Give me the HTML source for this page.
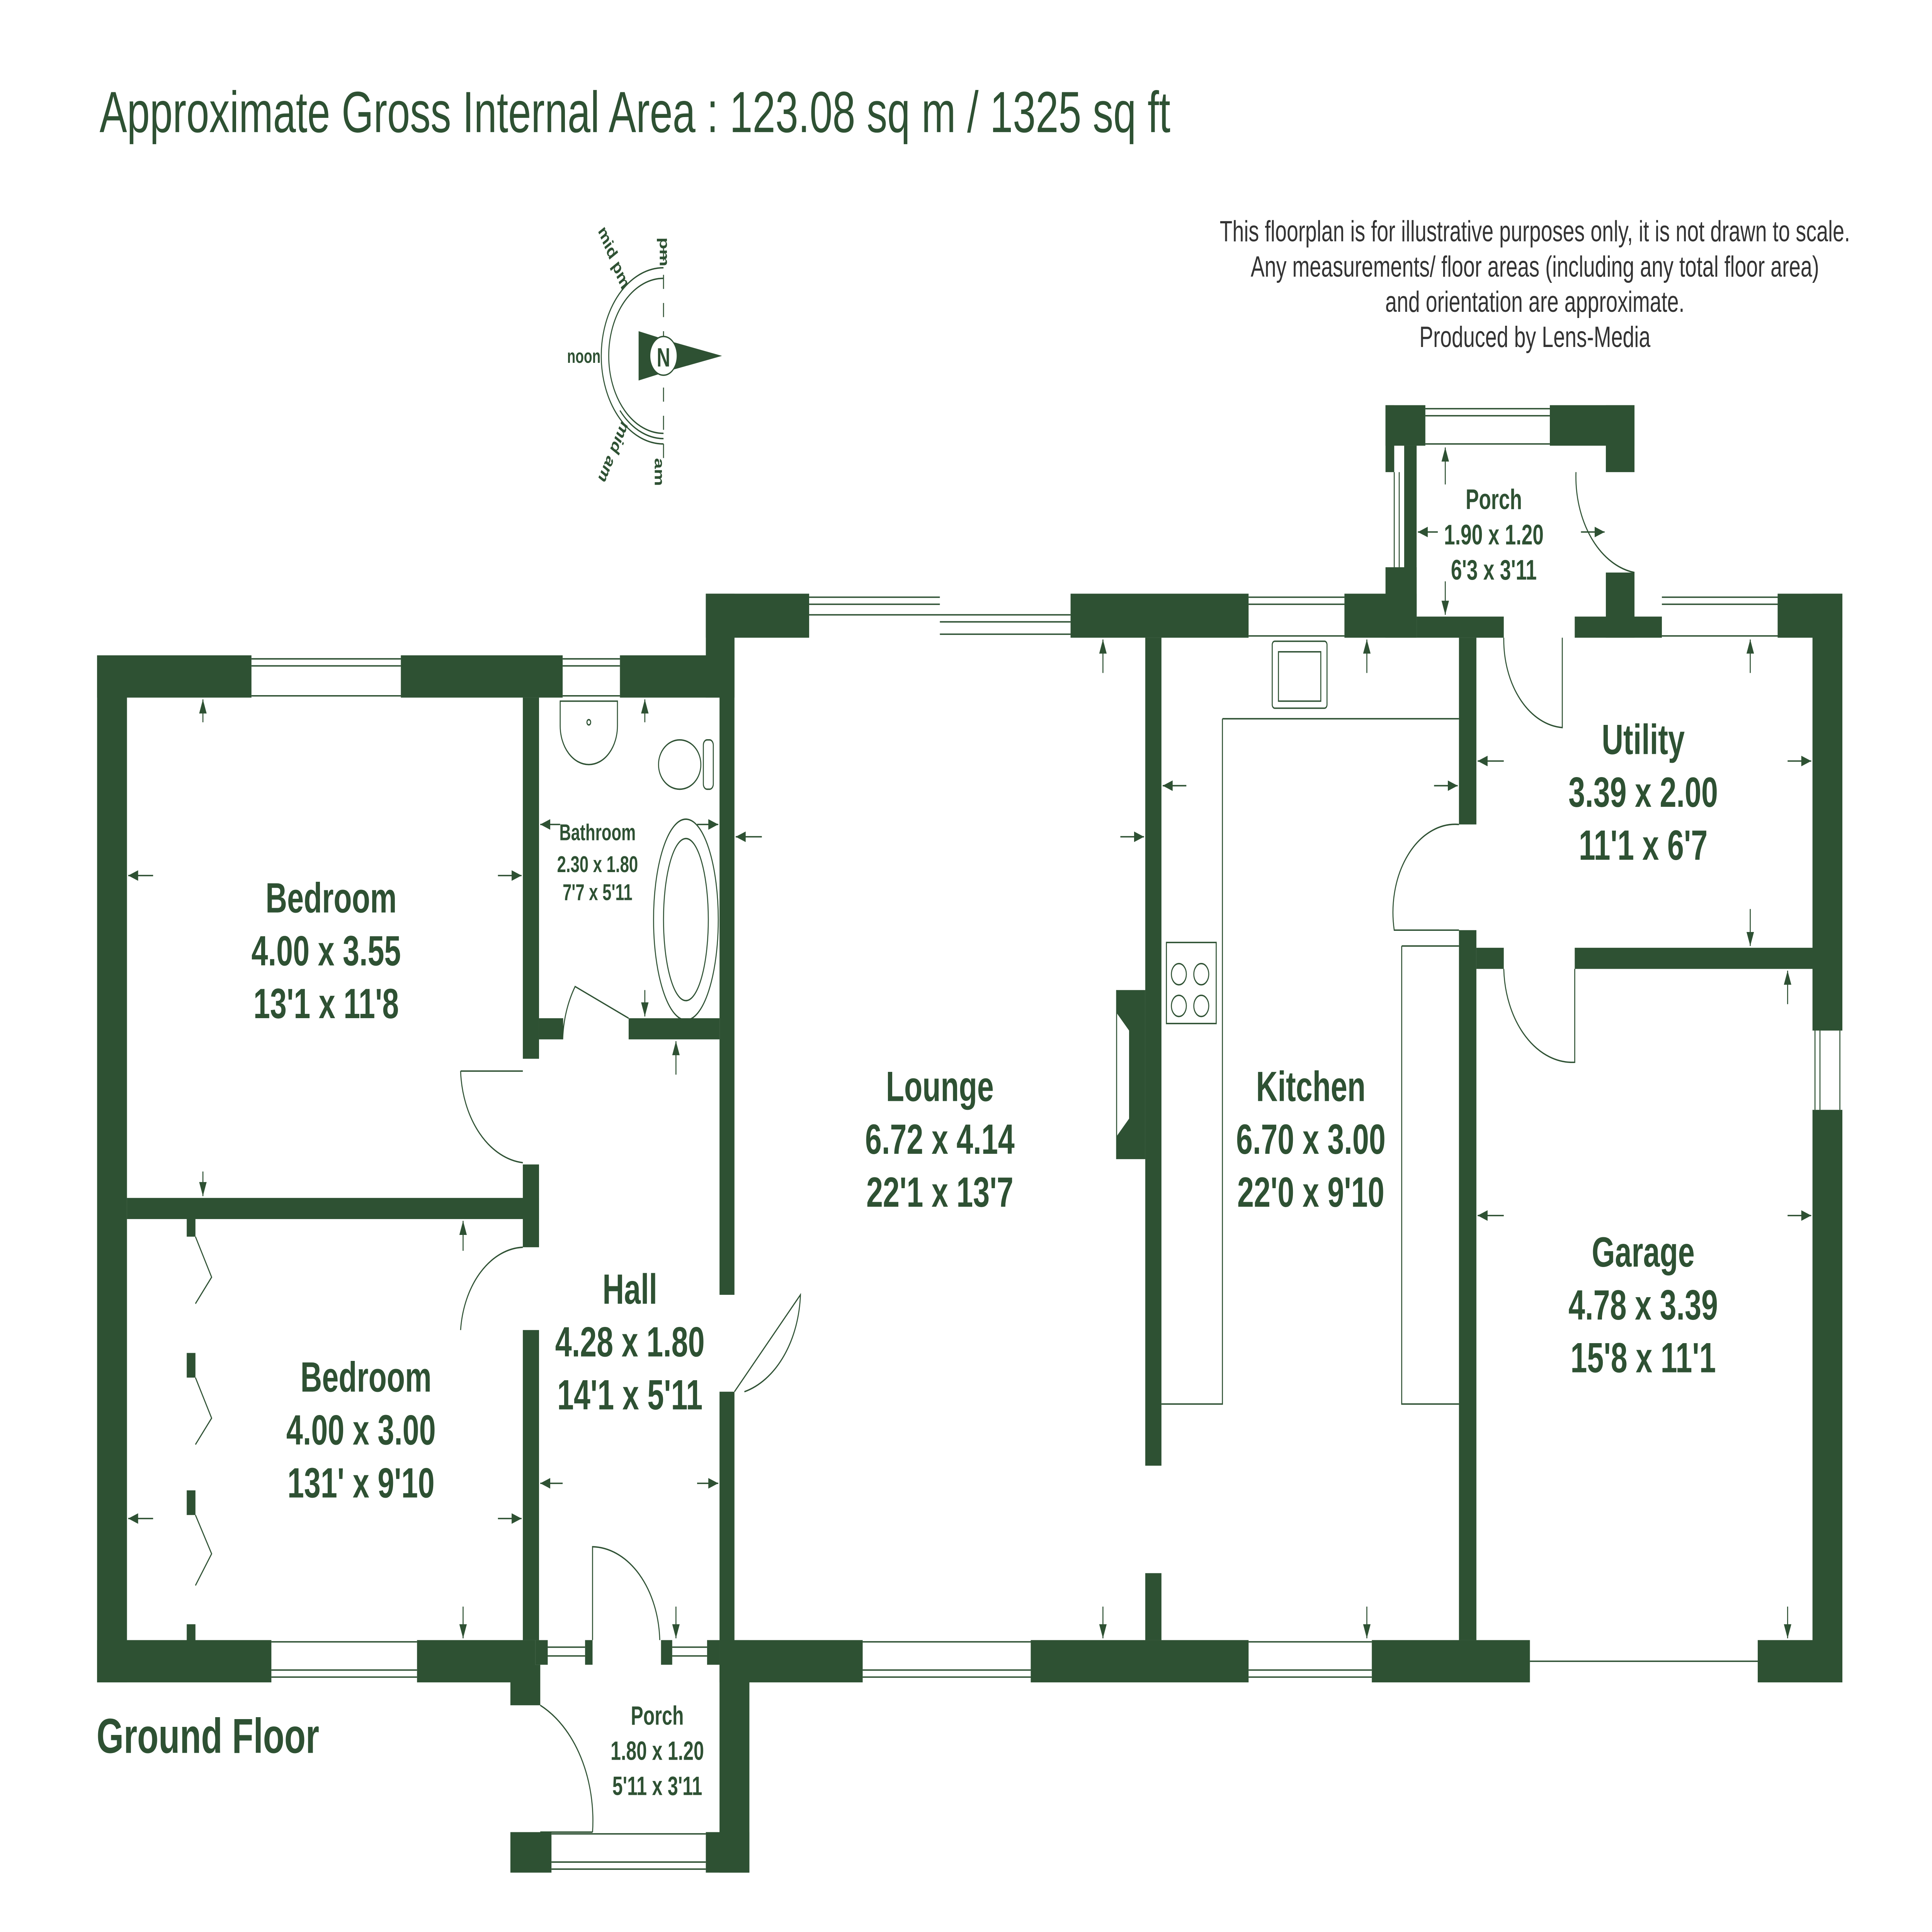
<!DOCTYPE html>
<html><head><meta charset="utf-8"><style>
html,body{margin:0;padding:0;background:#fff;width:100%;height:100%;overflow:hidden;}
svg{display:block;position:absolute;left:0;top:0;width:100vw;height:100vh;}
.w{fill:#2e5133;}
.l{stroke:#2e5133;fill:none;stroke-width:0.8;}
.t{font-family:"Liberation Sans Narrow","Liberation Sans",sans-serif;font-weight:bold;fill:#2e5133;text-anchor:middle;}
.a{stroke:#2e5133;stroke-width:0.8;marker-end:url(#ah);}
</style></head><body>
<svg viewBox="0 0 1552 1096.7" preserveAspectRatio="none" xmlns="http://www.w3.org/2000/svg">
<defs><marker id="ah" markerWidth="8" markerHeight="6" refX="8" refY="3" orient="auto" markerUnits="userSpaceOnUse"><path d="M0,0 L8,3 L0,6z" fill="#2e5133"/></marker></defs>
<rect width="1552" height="1097" fill="#fff"/>
<text x="80" y="75" style="font-family:'Liberation Sans',sans-serif;font-size:33px;fill:#2e5133">Approximate Gross Internal Area : 123.08 sq m / 1325 sq ft</text>
<g style="font-family:'Liberation Sans',sans-serif;font-size:16.7px;fill:#333" text-anchor="middle">
<text x="1233" y="137">This floorplan is for illustrative purposes only, it is not drawn to scale.</text>
<text x="1233" y="157">Any measurements/ floor areas (including any total floor area)</text>
<text x="1233" y="177">and orientation are approximate.</text>
<text x="1233" y="197">Produced by Lens-Media</text>
</g>
<g>
<path class="l" d="M533,152 A50,50 0 0 0 533,252 M533,158 A44,44 0 0 0 533,246 M533,249 A47,47 0 0 1 498,233"/>
<line class="l" x1="533" y1="140" x2="533" y2="265" stroke-dasharray="8,8"/>
<polygon class="w" points="513,188 540,194 580,202 540,210 513,216"/>
<circle cx="533" cy="202" r="11" fill="#fff" stroke="#2e5133" stroke-width="0.8"/>
<text class="t" x="533" y="208" style="font-size:15px;font-family:'Liberation Sans',sans-serif">N</text>
<g class="t" style="font-size:11px;font-family:'Liberation Sans',sans-serif">
<text x="469" y="206">noon</text>
<text transform="translate(530,143) rotate(90)">pm</text>
<text transform="translate(526,260) rotate(90)" text-anchor="start">am</text>
<text transform="translate(490,148) rotate(60)">mid pm</text>
<text transform="translate(490,255) rotate(120)">mid am</text>
</g>
</g>
<g class="w">
<rect x="78" y="372" width="124" height="24"/><rect x="322" y="372" width="130" height="24"/><rect x="498" y="372" width="80" height="24"/>
<rect x="78" y="372" width="24" height="583"/>
<rect x="78" y="931" width="140" height="24"/><rect x="335" y="931" width="95" height="24"/>
<rect x="102" y="680" width="331" height="12"/>
<rect x="420" y="396" width="13" height="205"/><rect x="420" y="661" width="13" height="47"/><rect x="420" y="755" width="13" height="176"/>
<rect x="433" y="578" width="19" height="12"/><rect x="505" y="578" width="73" height="12"/>
<rect x="150" y="690" width="7" height="12"/><rect x="150" y="768" width="7" height="14"/><rect x="150" y="846" width="7" height="14"/><rect x="150" y="922" width="7" height="10"/>
<rect x="567" y="337" width="83" height="25"/><rect x="567" y="337" width="23" height="59"/>
<rect x="578" y="362" width="12" height="373"/><rect x="578" y="790" width="12" height="141"/>
<rect x="860" y="337" width="143" height="25"/><rect x="1080" y="337" width="58" height="25"/>
<rect x="1138" y="350" width="70" height="12"/>
<rect x="920" y="362" width="13" height="470"/><rect x="920" y="893" width="13" height="38"/>
<polygon points="897,562 920,562 920,658 897,658 897,645 907,635 907,585 897,575"/>
<rect x="578" y="931" width="115" height="24"/><rect x="828" y="931" width="175" height="24"/><rect x="1102" y="931" width="127" height="24"/>
<rect x="1113" y="230" width="32" height="23"/><rect x="1245" y="230" width="68" height="23"/><rect x="1290" y="230" width="23" height="38"/>
<rect x="1113" y="230" width="7" height="38"/><rect x="1113" y="322" width="25" height="40"/><rect x="1128" y="253" width="10" height="97"/>
<rect x="1290" y="325" width="23" height="37"/><rect x="1265" y="350" width="70" height="12"/>
<rect x="1428" y="337" width="52" height="25"/>
<rect x="1172" y="362" width="14" height="106"/><rect x="1172" y="528" width="14" height="403"/>
<rect x="1186" y="538" width="22" height="12"/><rect x="1265" y="538" width="193" height="12"/>
<rect x="1456" y="337" width="24" height="248"/><rect x="1456" y="630" width="24" height="325"/>
<rect x="1412" y="931" width="68" height="24"/>
<rect x="410" y="945" width="24" height="23"/><rect x="410" y="1040" width="33" height="23"/><rect x="567" y="1040" width="35" height="23"/>
<rect x="578" y="931" width="24" height="132"/>
<rect x="430" y="931" width="10" height="14"/><rect x="470" y="931" width="6" height="14"/><rect x="531" y="931" width="9" height="14"/><rect x="568" y="931" width="10" height="14"/>
</g>
<g class="l">
<path d="M202,374 H322 M202,378 H322 M202,395 H322 M452,374 H498 M452,378 H498 M452,395 H498"/>
<path d="M650,339 H755 M650,343 H755 M650,349 H755 M755,349 H860 M755,353 H860 M755,360 H860"/>
<path d="M1003,339 H1080 M1003,343 H1080 M1003,361 H1080 M1335,339 H1428 M1335,343 H1428 M1335,361 H1428"/>
<path d="M1145,232 H1245 M1145,236 H1245 M1145,252 H1245 M1120,268 V322 M1124,268 V322"/>
<path d="M218,952 H335 M218,948 H335 M218,932 H335 M693,952 H828 M693,948 H828 M693,932 H828 M1003,952 H1102 M1003,948 H1102 M1003,932 H1102"/>
<path d="M443,1061 H567 M443,1057 H567 M443,1041 H567 M1458,585 V630 M1462,585 V630 M1478,585 V630"/>
<path d="M1229,943 H1412 M440,935 H470 M440,940 H470 M540,935 H568 M540,940 H568"/>
</g>
<g class="l">
<path d="M370,608 H420 M370,608 A55,55 0 0 0 420,660"/>
<path d="M370,755 A52,52 0 0 1 420,708"/>
<path d="M452,590 V578 M452,590 A58,58 0 0 1 462,560 L505,578"/>
<path d="M590,790 L643,735 A60,60 0 0 1 598,790"/>
<path d="M476,931 V878 A55,55 0 0 1 530,931"/>
<path d="M434,968 A72,72 0 0 1 476,1040 M476,1040 H434"/>
<path d="M1208,362 A50,50 0 0 0 1255,413 V362"/>
<path d="M1266,268 A55,55 0 0 0 1313,325"/>
<path d="M1172,468 A50,50 0 0 0 1120,528 H1172"/>
<path d="M1208,550 A55,55 0 0 0 1265,603 V550"/>
</g>
<g class="l">
<path d="M982,408 H1172 M982,408 V797 H933 M1126,537 H1172 M1126,537 V797 H1172"/>
<rect x="1022" y="364" width="44" height="38" rx="2"/><rect x="1027" y="370" width="34" height="28"/>
<rect x="937" y="535" width="40" height="46"/><circle cx="947" cy="553" r="6"/><circle cx="965" cy="553" r="6"/><circle cx="947" cy="571" r="6"/><circle cx="965" cy="571" r="6"/>
<path d="M450,398 H496 V412 A23,22 0 0 1 450,412 Z"/><circle cx="473" cy="410" r="1.5"/>
<ellipse cx="546" cy="434" rx="17" ry="14"/><rect x="565" y="420" width="8" height="28" rx="3"/>
<ellipse cx="551" cy="522" rx="26" ry="57"/><ellipse cx="551" cy="522" rx="18" ry="46"/>
<path d="M157,702 L170,725 L157,740 M157,782 L170,805 L157,820 M157,860 L170,882 L157,900" />
<line x1="897" y1="562" x2="897" y2="658"/>
</g>
<g>
<line class="a" x1="163" y1="410" x2="163" y2="397"/><line class="a" x1="163" y1="665" x2="163" y2="679"/>
<line class="a" x1="123" y1="497" x2="103" y2="497"/><line class="a" x1="400" y1="497" x2="419" y2="497"/>
<line class="a" x1="372" y1="710" x2="372" y2="693"/><line class="a" x1="372" y1="912" x2="372" y2="930"/>
<line class="a" x1="123" y1="862" x2="103" y2="862"/><line class="a" x1="400" y1="862" x2="419" y2="862"/>
<line class="a" x1="518" y1="410" x2="518" y2="397"/><line class="a" x1="518" y1="562" x2="518" y2="577"/>
<line class="a" x1="450" y1="468" x2="434" y2="468"/><line class="a" x1="560" y1="468" x2="577" y2="468"/>
<line class="a" x1="543" y1="610" x2="543" y2="591"/><line class="a" x1="543" y1="912" x2="543" y2="930"/>
<line class="a" x1="452" y1="842" x2="434" y2="842"/><line class="a" x1="560" y1="842" x2="577" y2="842"/>
<line class="a" x1="612" y1="475" x2="591" y2="475"/><line class="a" x1="900" y1="475" x2="919" y2="475"/>
<line class="a" x1="886" y1="382" x2="886" y2="363"/><line class="a" x1="886" y1="912" x2="886" y2="930"/>
<line class="a" x1="953" y1="446" x2="934" y2="446"/><line class="a" x1="1152" y1="446" x2="1171" y2="446"/>
<line class="a" x1="1098" y1="382" x2="1098" y2="363"/><line class="a" x1="1098" y1="912" x2="1098" y2="930"/>
<line class="a" x1="1208" y1="432" x2="1187" y2="432"/><line class="a" x1="1436" y1="432" x2="1455" y2="432"/>
<line class="a" x1="1406" y1="382" x2="1406" y2="363"/><line class="a" x1="1406" y1="516" x2="1406" y2="537"/>
<line class="a" x1="1208" y1="690" x2="1187" y2="690"/><line class="a" x1="1436" y1="690" x2="1455" y2="690"/>
<line class="a" x1="1436" y1="570" x2="1436" y2="551"/><line class="a" x1="1436" y1="912" x2="1436" y2="930"/>
<line class="a" x1="1161" y1="275" x2="1161" y2="254"/><line class="a" x1="1161" y1="330" x2="1161" y2="349"/>
<line class="a" x1="1155" y1="302" x2="1139" y2="302"/><line class="a" x1="1270" y1="302" x2="1289" y2="302"/>
</g>
<g class="t">
<text x="266" y="518" style="font-size:24px">Bedroom</text><text x="262" y="548" style="font-size:24px">4.00 x 3.55</text><text x="262" y="578" style="font-size:24px">13'1 x 11'8</text>
<text x="294" y="790" style="font-size:24px">Bedroom</text><text x="290" y="820" style="font-size:24px">4.00 x 3.00</text><text x="290" y="850" style="font-size:24px">131' x 9'10</text>
<text x="480" y="477" style="font-size:13px">Bathroom</text><text x="480" y="495" style="font-size:13px">2.30 x 1.80</text><text x="480" y="511" style="font-size:13px">7'7 x 5'11</text>
<text x="506" y="740" style="font-size:24px">Hall</text><text x="506" y="770" style="font-size:24px">4.28 x 1.80</text><text x="506" y="800" style="font-size:24px">14'1 x 5'11</text>
<text x="755" y="625" style="font-size:24px">Lounge</text><text x="755" y="655" style="font-size:24px">6.72 x 4.14</text><text x="755" y="685" style="font-size:24px">22'1 x 13'7</text>
<text x="1053" y="625" style="font-size:24px">Kitchen</text><text x="1053" y="655" style="font-size:24px">6.70 x 3.00</text><text x="1053" y="685" style="font-size:24px">22'0 x 9'10</text>
<text x="1320" y="428" style="font-size:24px">Utility</text><text x="1320" y="458" style="font-size:24px">3.39 x 2.00</text><text x="1320" y="488" style="font-size:24px">11'1 x 6'7</text>
<text x="1320" y="719" style="font-size:24px">Garage</text><text x="1320" y="749" style="font-size:24px">4.78 x 3.39</text><text x="1320" y="779" style="font-size:24px">15'8 x 11'1</text>
<text x="1200" y="289" style="font-size:16px">Porch</text><text x="1200" y="309" style="font-size:16px">1.90 x 1.20</text><text x="1200" y="329" style="font-size:16px">6'3 x 3'11</text>
<text x="528" y="979" style="font-size:15px">Porch</text><text x="528" y="999" style="font-size:15px">1.80 x 1.20</text><text x="528" y="1019" style="font-size:15px">5'11 x 3'11</text>
<text x="167" y="995" style="font-size:28px;font-family:'Liberation Sans',sans-serif">Ground Floor</text>
</g>
</svg>
</body></html>
